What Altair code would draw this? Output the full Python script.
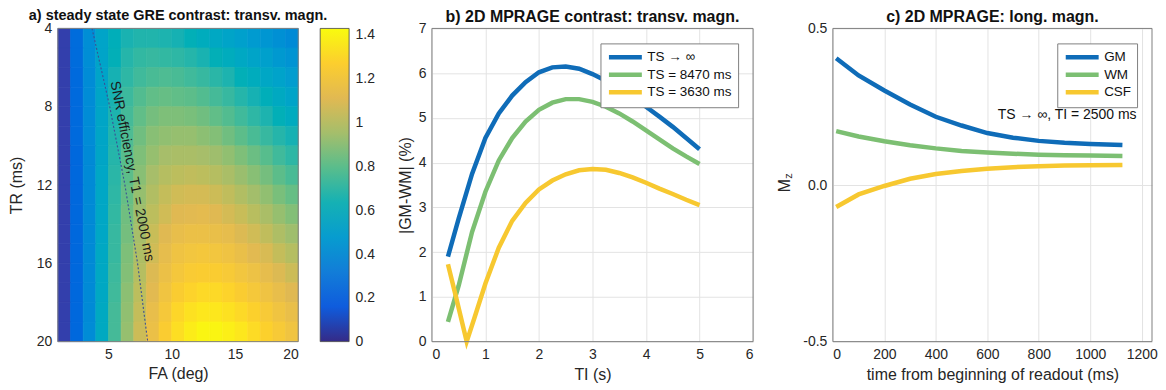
import altair as alt
import pandas as pd

# ---------------- data ----------------
# panel a: heatmap cells (FA edges x TR edges), values read from the colours
FA_EDGES = list(range(1, 21))          # 1..20 deg
TR_EDGES = list(range(4, 21))          # 4..20 ms
HEAT = [  # rows: TR 4-5 ... 19-20 ; columns: FA 1-2 ... 19-20
    [.07, .23, .40, .53, .61, .65, .67, .67, .66, .64, .62, .59, .56, .53, .50, .47, .44, .41, .38],
    [.07, .23, .40, .53, .62, .68, .71, .72, .71, .70, .68, .65, .62, .59, .56, .53, .50, .46, .43],
    [.07, .22, .39, .53, .64, .70, .74, .76, .77, .76, .74, .72, .69, .66, .62, .59, .55, .52, .48],
    [.07, .22, .39, .54, .65, .73, .78, .81, .82, .81, .80, .78, .75, .72, .68, .64, .61, .57, .53],
    [.07, .22, .39, .54, .66, .75, .81, .85, .87, .87, .86, .84, .81, .78, .74, .70, .66, .62, .58],
    [.07, .22, .39, .54, .67, .77, .84, .89, .91, .92, .92, .90, .88, .84, .80, .76, .72, .68, .64],
    [.07, .21, .38, .54, .68, .79, .87, .92, .96, .97, .97, .96, .94, .91, .87, .83, .79, .74, .70],
    [.07, .21, .38, .55, .69, .80, .89, .96, 1.00, 1.02, 1.03, 1.02, 1.00, .97, .93, .89, .85, .80, .76],
    [.07, .21, .38, .55, .70, .82, .92, .99, 1.04, 1.07, 1.08, 1.08, 1.06, 1.03, .99, .95, .91, .86, .82],
    [.07, .21, .38, .55, .71, .84, .94, 1.02, 1.07, 1.11, 1.12, 1.13, 1.11, 1.08, 1.05, 1.01, .97, .92, .88],
    [.07, .21, .38, .55, .72, .85, .96, 1.05, 1.11, 1.15, 1.17, 1.17, 1.16, 1.14, 1.10, 1.07, 1.03, .98, .94],
    [.07, .21, .38, .56, .72, .87, .98, 1.07, 1.14, 1.19, 1.21, 1.22, 1.21, 1.19, 1.16, 1.12, 1.09, 1.04, 1.00],
    [.07, .21, .38, .56, .73, .88, 1.00, 1.10, 1.17, 1.22, 1.25, 1.26, 1.26, 1.24, 1.21, 1.18, 1.14, 1.10, 1.06],
    [.07, .21, .38, .56, .74, .90, 1.02, 1.12, 1.20, 1.26, 1.29, 1.31, 1.31, 1.29, 1.26, 1.23, 1.19, 1.15, 1.11],
    [.07, .21, .38, .57, .75, .91, 1.04, 1.15, 1.23, 1.30, 1.34, 1.36, 1.36, 1.34, 1.31, 1.28, 1.24, 1.20, 1.16],
    [.07, .21, .39, .57, .75, .92, 1.06, 1.17, 1.26, 1.33, 1.38, 1.41, 1.41, 1.39, 1.36, 1.32, 1.28, 1.24, 1.20],
]
CBAR_MAX = 1.43
CBAR_TICKS = [0, 0.2, 0.4, 0.6, 0.8, 1, 1.2, 1.4]
# SNR-efficiency (Ernst angle) line, T1 = 2000 ms
ERNST_TR = [4, 8, 12, 16, 20]
ERNST_FA = [3.7, 5.1, 6.3, 7.3, 8.1]
ERNST_LABEL = "SNR efficiency, T1 = 2000 ms"
ERNST_LABEL_POS = (6.85, 11.3)

# panel b: |GM-WM| (%) vs TI (s)
B_SERIES = ["TS \u2192 \u221e", "TS = 8470 ms", "TS = 3630 ms"]
B_TI = [0.3, 0.5, 0.75, 1.0, 1.25, 1.5, 1.75, 2.0, 2.25, 2.5, 2.75, 3.0, 3.25, 3.5, 3.75, 4.0, 4.25, 4.5, 4.75, 5.0]
B_INF = [1.9, 2.75, 3.75, 4.55, 5.1, 5.5, 5.8, 6.02, 6.13, 6.15, 6.1, 5.98, 5.83, 5.66, 5.47, 5.25, 5.03, 4.8, 4.55, 4.3]
B_8470 = [0.44, 1.25, 2.45, 3.35, 4.05, 4.55, 4.92, 5.18, 5.34, 5.42, 5.42, 5.36, 5.25, 5.1, 4.92, 4.72, 4.52, 4.32, 4.14, 3.97]
B_TI_3630 = [0.3, 0.45, 0.65, 0.8, 1.0, 1.25, 1.5, 1.75, 2.0, 2.25, 2.5, 2.75, 3.0, 3.25, 3.5, 3.75, 4.0, 4.25, 4.5, 4.75, 5.0]
B_3630 = [1.73, 1.0, 0.0, 0.55, 1.3, 2.1, 2.7, 3.1, 3.4, 3.6, 3.74, 3.83, 3.86, 3.84, 3.77, 3.67, 3.55, 3.42, 3.3, 3.17, 3.05]

# panel c: Mz vs time from beginning of readout (ms)
C_SERIES = ["GM", "WM", "CSF"]
C_T = [13, 100, 200, 300, 400, 500, 600, 700, 800, 900, 1000, 1125]
C_GM = [0.405, 0.35, 0.302, 0.257, 0.218, 0.19, 0.166, 0.151, 0.141, 0.135, 0.131, 0.128]
C_WM = [0.172, 0.155, 0.14, 0.127, 0.117, 0.109, 0.104, 0.1, 0.097, 0.095, 0.094, 0.093]
C_CSF = [-0.07, -0.03, -0.003, 0.02, 0.035, 0.045, 0.052, 0.057, 0.06, 0.062, 0.063, 0.064]
C_NOTE = "TS \u2192 \u221e, TI = 2500 ms"
C_NOTE_POS = (1180, 0.224)

# ---------------- styling ----------------
PARULA = ["#352a87", "#0f5cdd", "#127dd8", "#079ccf", "#15b1b4",
          "#59bd8c", "#a5be6b", "#e1b952", "#fcce2e", "#f9fb0e"]
LINE_COLORS = ["#0f6cb8", "#7cbf72", "#f7c830"]
FONT = "Liberation Sans"
TXT = "#262626"
BOX = "#808080"
GRID = "#e3e3e3"
W_A, W_B, W_C, H = 241, 322, 320, 314
CB_GAP, CB_W = 22, 29

# ---------------- tables ----------------
heat_rows = []
for i, row in enumerate(HEAT):
    for j, v in enumerate(row):
        heat_rows.append(dict(fa0=FA_EDGES[j], fa1=FA_EDGES[j + 1],
                              tr0=TR_EDGES[i], tr1=TR_EDGES[i + 1], v=v))
heat_df = pd.DataFrame(heat_rows)
ernst_df = pd.DataFrame(dict(fa=ERNST_FA, tr=ERNST_TR))
ernst_lab = pd.DataFrame([dict(fa=ERNST_LABEL_POS[0], tr=ERNST_LABEL_POS[1], t=ERNST_LABEL)])
cbar_df = pd.DataFrame([dict(lo=0.0, hi=CBAR_MAX)])

b_df = pd.concat([
    pd.DataFrame(dict(ti=B_TI, val=B_INF, s=B_SERIES[0])),
    pd.DataFrame(dict(ti=B_TI, val=B_8470, s=B_SERIES[1])),
    pd.DataFrame(dict(ti=B_TI_3630, val=B_3630, s=B_SERIES[2])),
])
c_df = pd.concat([
    pd.DataFrame(dict(t=C_T, mz=C_GM, s=C_SERIES[0])),
    pd.DataFrame(dict(t=C_T, mz=C_WM, s=C_SERIES[1])),
    pd.DataFrame(dict(t=C_T, mz=C_CSF, s=C_SERIES[2])),
])
c_note = pd.DataFrame([dict(t=C_NOTE_POS[0], mz=C_NOTE_POS[1], txt=C_NOTE)])
one = pd.DataFrame([dict(k=0)])

n = len(PARULA)
cdomain = [CBAR_MAX * i / (n - 1) for i in range(n)]
cscale = alt.Scale(domain=cdomain, range=PARULA, clamp=True)

def ax(title, values, **kw):
    return alt.Axis(title=title, values=values, grid=kw.pop("grid", False), ticks=False,
                    domain=False, labelFontSize=14, labelColor=TXT, titleFontSize=16,
                    titleFontWeight="normal", titleColor=TXT, labelFont=FONT, titleFont=FONT,
                    labelExpr="replace(datum.label, '\u2212', '-')", **kw)

def ttl(text, size, off):
    return alt.TitleParams(text=text, fontSize=size, fontWeight="bold", font=FONT,
                           color="#111", offset=off, anchor="middle")

def frame(w):
    return alt.Chart(one).mark_rect(filled=False, stroke=BOX, strokeWidth=1).encode(
        x=alt.value(0), x2=alt.value(w), y=alt.value(0), y2=alt.value(H))

# ---------------- panel a (heatmap + colour bar) ----------------
xa = alt.X("fa0:Q", scale=alt.Scale(domain=[1, 20], nice=False, zero=False),
           axis=ax("FA (deg)", [5, 10, 15, 20], labelPadding=6, titlePadding=4))
ya = alt.Y("tr0:Q", scale=alt.Scale(domain=[4, 20], nice=False, zero=False, reverse=True),
           axis=ax("TR (ms)", list(range(4, 21, 2)), labelPadding=6, titlePadding=12))
heat = alt.Chart(heat_df).mark_rect(strokeWidth=0.7).encode(
    x=xa, x2="fa1:Q", y=ya, y2="tr1:Q",
    color=alt.Color("v:Q", scale=cscale, legend=None),
    stroke=alt.Stroke("v:Q", scale=cscale, legend=None),
)
ernst = alt.Chart(ernst_df).mark_line(strokeDash=[2, 2], color="#3a4f96", strokeWidth=1.1).encode(
    x="fa:Q", y="tr:Q", order="tr:Q")
ernst_t = alt.Chart(ernst_lab).mark_text(angle=79, fontSize=14, font=FONT, color="#1a1a1a").encode(
    x="fa:Q", y="tr:Q", text="t:N")
heat_layer = alt.layer(heat, ernst, ernst_t, frame(W_A))

grad = alt.LinearGradient(
    gradient="linear", x1=0, x2=0, y1=1, y2=0,
    stops=[alt.GradientStop(color=c, offset=i / (n - 1)) for i, c in enumerate(PARULA)])
colorbar = alt.Chart(cbar_df).mark_rect(color=grad, stroke="#444", strokeWidth=0.8).encode(
    x=alt.value(W_A + CB_GAP), x2=alt.value(W_A + CB_GAP + CB_W),
    y=alt.Y("lo:Q", scale=alt.Scale(domain=[0, CBAR_MAX], nice=False, zero=False),
            axis=ax(None, CBAR_TICKS, orient="right", format=".1~f", labelPadding=6,
                    offset=CB_GAP + CB_W)),
    y2="hi:Q",
)
panel_a = alt.layer(heat_layer, colorbar).resolve_scale(y="independent").properties(
    width=W_A, height=H, title=ttl("a) steady state GRE contrast: transv. magn.", 14.5, -2.5))

# ---------------- panel b ----------------
leg = dict(title=None, orient="top-right", offset=15, padding=6, strokeColor=BOX,
           fillColor="white", labelFontSize=13.5, labelColor="#111", labelFont=FONT,
           symbolType="M-3,0L3,0", symbolStrokeWidth=4.5, symbolSize=121,
           symbolOffset=11, labelOffset=14, rowPadding=-0.5, cornerRadius=0)
panel_b_lines = alt.Chart(b_df).mark_line(strokeWidth=4.5).encode(
    x=alt.X("ti:Q", scale=alt.Scale(domain=[0, 6], nice=False),
            axis=ax("TI (s)", list(range(0, 7)), grid=True, gridColor=GRID,
                    labelPadding=6, titlePadding=5)),
    y=alt.Y("val:Q", scale=alt.Scale(domain=[0, 7], nice=False),
            axis=ax("|GM-WM| (%)", list(range(0, 8)), grid=True, gridColor=GRID,
                    labelPadding=6, titlePadding=5)),
    color=alt.Color("s:N", scale=alt.Scale(domain=B_SERIES, range=LINE_COLORS),
                    legend=alt.Legend(**leg)),
    order="ti:Q",
)
panel_b = alt.layer(panel_b_lines, frame(W_B)).properties(
    width=W_B, height=H, title=ttl("b) 2D MPRAGE contrast: transv. magn.", 16, -4))

# ---------------- panel c ----------------
c_lines = alt.Chart(c_df).mark_line(strokeWidth=4.5).encode(
    x=alt.X("t:Q", scale=alt.Scale(domain=[0, 1240], nice=False),
            axis=ax("time from beginning of readout (ms)", list(range(0, 1201, 200)),
                    format="d", grid=True, gridColor=GRID, labelPadding=6, titlePadding=5)),
    y=alt.Y("mz:Q", scale=alt.Scale(domain=[-0.5, 0.5], nice=False),
            axis=ax("M", [-0.5, 0, 0.5], grid=True, gridColor=GRID,
                    labelPadding=6, titlePadding=10)),
    color=alt.Color("s:N", scale=alt.Scale(domain=C_SERIES, range=LINE_COLORS),
                    legend=alt.Legend(**leg)),
    order="t:Q",
)
c_txt = alt.Chart(c_note).mark_text(align="right", baseline="middle", fontSize=14,
                                     font=FONT, color="#111").encode(
    x="t:Q", y="mz:Q", text="txt:N")
c_sub = alt.Chart(one).mark_text(angle=270, fontSize=11, font=FONT, color=TXT).encode(
    x=alt.value(-44), y=alt.value(148), text=alt.value("z"))
panel_c = alt.layer(c_lines, c_txt, c_sub, frame(W_C)).properties(
    width=W_C, height=H, title=ttl("c) 2D MPRAGE: long. magn.", 16, -4))

chart = alt.hconcat(panel_a, panel_b, panel_c, spacing=22).resolve_scale(
    color="independent", stroke="independent").configure(
    font=FONT, padding=0).configure_view(stroke=None)

chart.save("out.html", embed_options={"renderer": "svg", "actions": False})
